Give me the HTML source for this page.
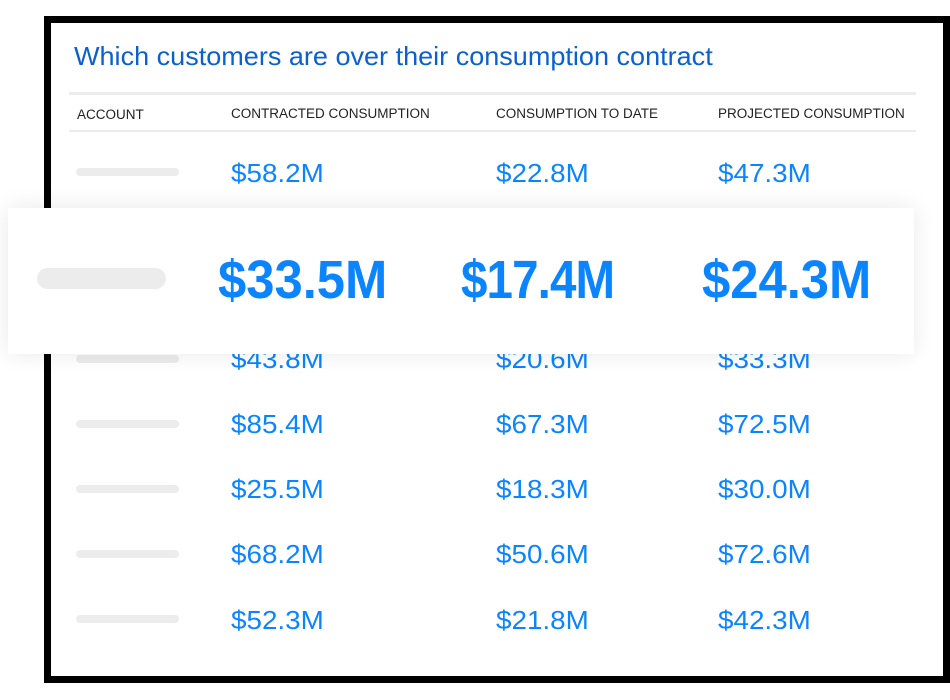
<!DOCTYPE html>
<html>
<head>
<meta charset="utf-8">
<style>
  html, body { margin:0; padding:0; background:#fff; }
  body { width:950px; height:700px; position:relative; overflow:hidden; font-family:"Liberation Sans", Arial, sans-serif; }
  .frame { position:absolute; left:44px; top:16px; width:906px; height:667px; box-sizing:border-box; border:7px solid #000; background:#fff; }
  .abs { position:absolute; white-space:nowrap; transform-origin:0 0; }
  .title { left:74px; top:43px; font-size:26px; line-height:26px; color:#0b60cf; transform:scaleX(1.04); }
  .hdr { font-size:13.5px; line-height:13.5px; color:#222; }
  .line { position:absolute; left:69px; width:847px; background:#ececec; }
  .bar { position:absolute; left:76px; width:103px; height:8px; border-radius:4px; background:#ececec; }
  .v { font-size:26px; line-height:26px; color:#0a84ff; transform:scaleX(1.07); }
  .card { position:absolute; left:8px; top:208px; width:906px; height:146px; background:#fff; box-shadow:0 0 22px rgba(0,0,0,0.09); }
  .big { font-size:54px; line-height:54px; font-weight:700; color:#0a84ff; transform:scaleX(0.94); }
</style>
</head>
<body>
<div class="frame"></div>

<div class="abs title">Which customers are over their consumption contract</div>

<div class="line" style="top:92px;height:3px;"></div>
<div class="abs hdr" style="left:77px;top:107.5px;">ACCOUNT</div>
<div class="abs hdr" style="left:231px;top:106.5px;">CONTRACTED CONSUMPTION</div>
<div class="abs hdr" style="left:496px;top:107px;">CONSUMPTION TO DATE</div>
<div class="abs hdr" style="left:718px;top:107px;">PROJECTED CONSUMPTION</div>
<div class="line" style="top:130px;height:2px;"></div>

<!-- row 1 -->
<div class="bar" style="top:168px;"></div>
<div class="abs v" style="left:231px;top:160px;">$58.2M</div>
<div class="abs v" style="left:496px;top:160px;">$22.8M</div>
<div class="abs v" style="left:718px;top:160px;">$47.3M</div>

<!-- row 3 -->
<div class="bar" style="top:355px;"></div>
<div class="abs v" style="left:231px;top:346px;">$43.8M</div>
<div class="abs v" style="left:496px;top:346px;">$20.6M</div>
<div class="abs v" style="left:718px;top:346px;">$33.3M</div>

<!-- row 4 -->
<div class="bar" style="top:420px;"></div>
<div class="abs v" style="left:231px;top:411px;">$85.4M</div>
<div class="abs v" style="left:496px;top:411px;">$67.3M</div>
<div class="abs v" style="left:718px;top:411px;">$72.5M</div>

<!-- row 5 -->
<div class="bar" style="top:485px;"></div>
<div class="abs v" style="left:231px;top:476px;">$25.5M</div>
<div class="abs v" style="left:496px;top:476px;">$18.3M</div>
<div class="abs v" style="left:718px;top:476px;">$30.0M</div>

<!-- row 6 -->
<div class="bar" style="top:550px;"></div>
<div class="abs v" style="left:231px;top:541px;">$68.2M</div>
<div class="abs v" style="left:496px;top:541px;">$50.6M</div>
<div class="abs v" style="left:718px;top:541px;">$72.6M</div>

<!-- row 7 -->
<div class="bar" style="top:615px;"></div>
<div class="abs v" style="left:231px;top:606.5px;">$52.3M</div>
<div class="abs v" style="left:496px;top:606.5px;">$21.8M</div>
<div class="abs v" style="left:718px;top:606.5px;">$42.3M</div>

<!-- highlighted card -->
<div class="card"></div>
<div style="position:absolute;left:37px;top:268px;width:129px;height:21px;border-radius:10.5px;background:#ececec;"></div>
<div class="abs big" style="left:218px;top:253px;">$33.5M</div>
<div class="abs big" style="left:461px;top:253px;letter-spacing:-1px;transform:scaleX(0.88);">$17.4M</div>
<div class="abs big" style="left:702px;top:253px;">$24.3M</div>
</body>
</html>
